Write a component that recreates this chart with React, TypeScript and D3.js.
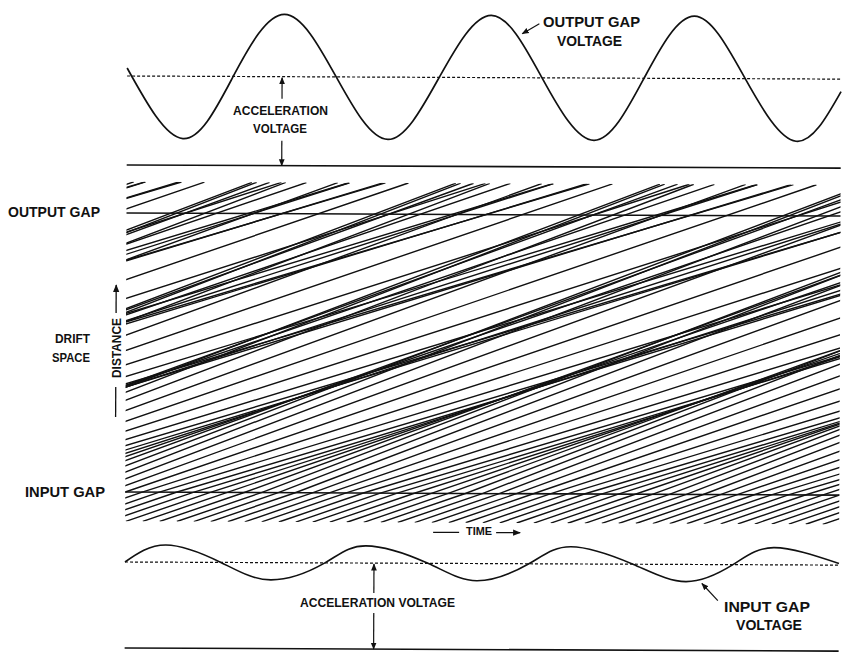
import React from 'react';
import * as d3 from 'd3';

const W = 844;
const H = 653;
const left = 126;
const right = 840;

// time in cycles of the rf voltage, counted from the left edge of the plots
const timeExtent = [0, 3.5];

// output gap voltage (top panel), 1 = dc acceleration voltage
const outputT = [0, 0.275, 0.52, 0.77, 1.025, 1.28, 1.53, 1.784, 2.034, 2.29, 2.534, 2.78, 3.03, 3.28, 3.5];
const outputV = [1.09, 0.3, 1, 1.7, 1, 0.3, 1, 1.7, 1, 0.3, 1, 1.7, 1, 0.3, 0.86];

// input gap voltage (bottom panel)
const inputT = [0, 0.2, 0.47, 0.715, 0.98, 1.18, 1.485, 1.725, 1.98, 2.185, 2.49, 2.75, 2.98, 3.18, 3.5];
const inputV = [1, 1.2, 1, 0.8, 1, 1.2, 1, 0.8, 1, 1.2, 1, 0.8, 1, 1.2, 1.02];

// electrons pass the input gap twelve times per cycle
const cycles = [-6, -5, -4, -3, -2, -1, 0, 1, 2, 3];
const phases = [0, 0.083, 0.167, 0.25, 0.333, 0.417, 0.5, 0.583, 0.667, 0.75, 0.833, 0.917];
// velocity after the input gap, relative to the dc velocity
const velocity = [1.0, 0.937, 0.89, 0.873, 0.89, 0.937, 1.0, 1.064, 1.11, 1.127, 1.11, 1.064];
// gap to gap transit time at dc velocity, in cycles
const transit = 3.94;
// visible part of the drift space: 0 = input gap, 1 = output gap
const distExtent = [-0.105, 1.112];

const font = "'Liberation Sans', 'DejaVu Sans', Arial, sans-serif";

const App = () => {
    const x = d3.scaleLinear().domain(timeExtent).range([left, right]);
    const yTop = d3.scaleLinear().domain([0, 1]).range([165, 76]);
    const yDist = d3.scaleLinear().domain([0, 1]).range([492, 213]);
    const yBot = d3.scaleLinear().domain([0, 1]).range([648, 562]);

    const topWave = d3
        .line()
        .x((d) => x(d[0]))
        .y((d) => yTop(d[1]))
        .curve(d3.curveNatural)(outputT.map((t, i) => [t, outputV[i]]));

    const botWave = d3
        .line()
        .x((d) => x(d[0]))
        .y((d) => yBot(d[1]))
        .curve(d3.curveNatural)(inputT.map((t, i) => [t, inputV[i]]));

    const path = d3
        .line()
        .x((d) => x(d[0]))
        .y((d) => yDist(d[1]));

    const electrons = [];
    cycles.forEach((c) => {
        phases.forEach((p, i) => {
            const t0 = c + p;
            const v = velocity[i];
            const pts = [
                [t0 + distExtent[0] * transit, distExtent[0]],
                [t0, 0],
                [t0 + (distExtent[1] * transit) / v, distExtent[1]],
            ];
            electrons.push(path(pts));
        });
    });

    const clipY0 = yDist(distExtent[1]);
    const clipY1 = yDist(distExtent[0]);

    return (
        <svg width={W} height={H} style={{ display: 'block', position: 'absolute', left: 0, top: 0 }}>
            <defs>
                <clipPath id='drift'>
                    <rect x={x(timeExtent[0])} y={clipY0} width={x(timeExtent[1]) - x(timeExtent[0])} height={clipY1 - clipY0} />
                </clipPath>
                <marker id='arr' viewBox='0 0 10 10' refX='9' refY='5' markerWidth='6' markerHeight='6' orient='auto-start-reverse'>
                    <path d='M0,1 L10,5 L0,9 z' fill='#111' />
                </marker>
            </defs>
            <rect width={W} height={H} fill='#fff' />
            <g transform='rotate(0.25 126 330)'>
                {/* top panel */}
                <line x1={left} x2={right} y1={yTop(1)} y2={yTop(1)} stroke='#111' strokeWidth={1.2} strokeDasharray='3,2' />
                <line x1={left} x2={right} y1={yTop(0)} y2={yTop(0)} stroke='#111' strokeWidth={1.6} />
                <path d={topWave} fill='none' stroke='#111' strokeWidth={1.7} />
                <line x1={281} x2={281} y1={98} y2={yTop(1) + 1} stroke='#111' strokeWidth={1.2} markerEnd='url(#arr)' />
                <line x1={281} x2={281} y1={140} y2={yTop(0)} stroke='#111' strokeWidth={1.2} markerEnd='url(#arr)' />
                <line x1={538} x2={521} y1={22} y2={32} stroke='#111' strokeWidth={1.2} markerEnd='url(#arr)' />

                {/* drift diagram */}
                <g clipPath='url(#drift)'>
                    {electrons.map((d, i) => (
                        <path key={i} d={d} fill='none' stroke='#111' strokeWidth={1.4} />
                    ))}
                </g>
                <line x1={left} x2={right} y1={yDist(1)} y2={yDist(1)} stroke='#111' strokeWidth={1.5} />
                <line x1={left} x2={right} y1={yDist(0)} y2={yDist(0)} stroke='#111' strokeWidth={1.6} />

                {/* bottom panel */}
                <line x1={left} x2={right} y1={yBot(1)} y2={yBot(1)} stroke='#111' strokeWidth={1.2} strokeDasharray='3,2' />
                <line x1={left} x2={right} y1={yBot(0)} y2={yBot(0)} stroke='#111' strokeWidth={1.6} />
                <path d={botWave} fill='none' stroke='#111' strokeWidth={1.6} />
                <line x1={375} x2={375} y1={592} y2={yBot(1) + 1} stroke='#111' strokeWidth={1.2} markerEnd='url(#arr)' />
                <line x1={375} x2={375} y1={612} y2={yBot(0)} stroke='#111' strokeWidth={1.2} markerEnd='url(#arr)' />
                <line x1={719} x2={703} y1={598} y2={581} stroke='#111' strokeWidth={1.2} markerEnd='url(#arr)' />

                {/* axis arrows */}
                <line x1={116} x2={116} y1={313} y2={285} stroke='#111' strokeWidth={1.3} markerEnd='url(#arr)' />
                <line x1={116} x2={116} y1={387} y2={417} stroke='#111' strokeWidth={1.3} />
                <line x1={434} x2={460} y1={531} y2={531} stroke='#111' strokeWidth={1.3} />
                <line x1={497} x2={521} y1={531} y2={531} stroke='#111' strokeWidth={1.3} markerEnd='url(#arr)' />
            </g>

            <g fontFamily={font} fill='#111'>
                <text x={8} y={217} fontSize={14} fontWeight={700} textLength={92} lengthAdjust='spacingAndGlyphs'>OUTPUT GAP</text>
                <text x={55} y={343} fontSize={13} fontWeight={700} textLength={35} lengthAdjust='spacingAndGlyphs'>DRIFT</text>
                <text x={52} y={362} fontSize={13} fontWeight={700} textLength={38} lengthAdjust='spacingAndGlyphs'>SPACE</text>
                <text x={25} y={497} fontSize={14} fontWeight={700} textLength={80} lengthAdjust='spacingAndGlyphs'>INPUT GAP</text>
                <text transform='translate(121,348) rotate(-90)' textAnchor='middle' fontSize={12} fontWeight={600} textLength={60} lengthAdjust='spacingAndGlyphs'>DISTANCE</text>
                <text x={466} y={535} fontSize={11} fontWeight={600} textLength={26} lengthAdjust='spacingAndGlyphs'>TIME</text>

                <text x={543} y={27} fontSize={14} fontWeight={700} textLength={97} lengthAdjust='spacingAndGlyphs'>OUTPUT GAP</text>
                <text x={557} y={46} fontSize={14} fontWeight={700} textLength={65} lengthAdjust='spacingAndGlyphs'>VOLTAGE</text>
                <text x={233} y={115} fontSize={12} fontWeight={600} textLength={95} lengthAdjust='spacingAndGlyphs'>ACCELERATION</text>
                <text x={253} y={133} fontSize={12} fontWeight={600} textLength={54} lengthAdjust='spacingAndGlyphs'>VOLTAGE</text>

                <text x={300} y={607} fontSize={12} fontWeight={600} textLength={155} lengthAdjust='spacingAndGlyphs'>ACCELERATION VOLTAGE</text>
                <text x={724} y={612} fontSize={14} fontWeight={700} textLength={86} lengthAdjust='spacingAndGlyphs'>INPUT GAP</text>
                <text x={736} y={630} fontSize={14} fontWeight={700} textLength={66} lengthAdjust='spacingAndGlyphs'>VOLTAGE</text>
            </g>
        </svg>
    );
};

export default App;
